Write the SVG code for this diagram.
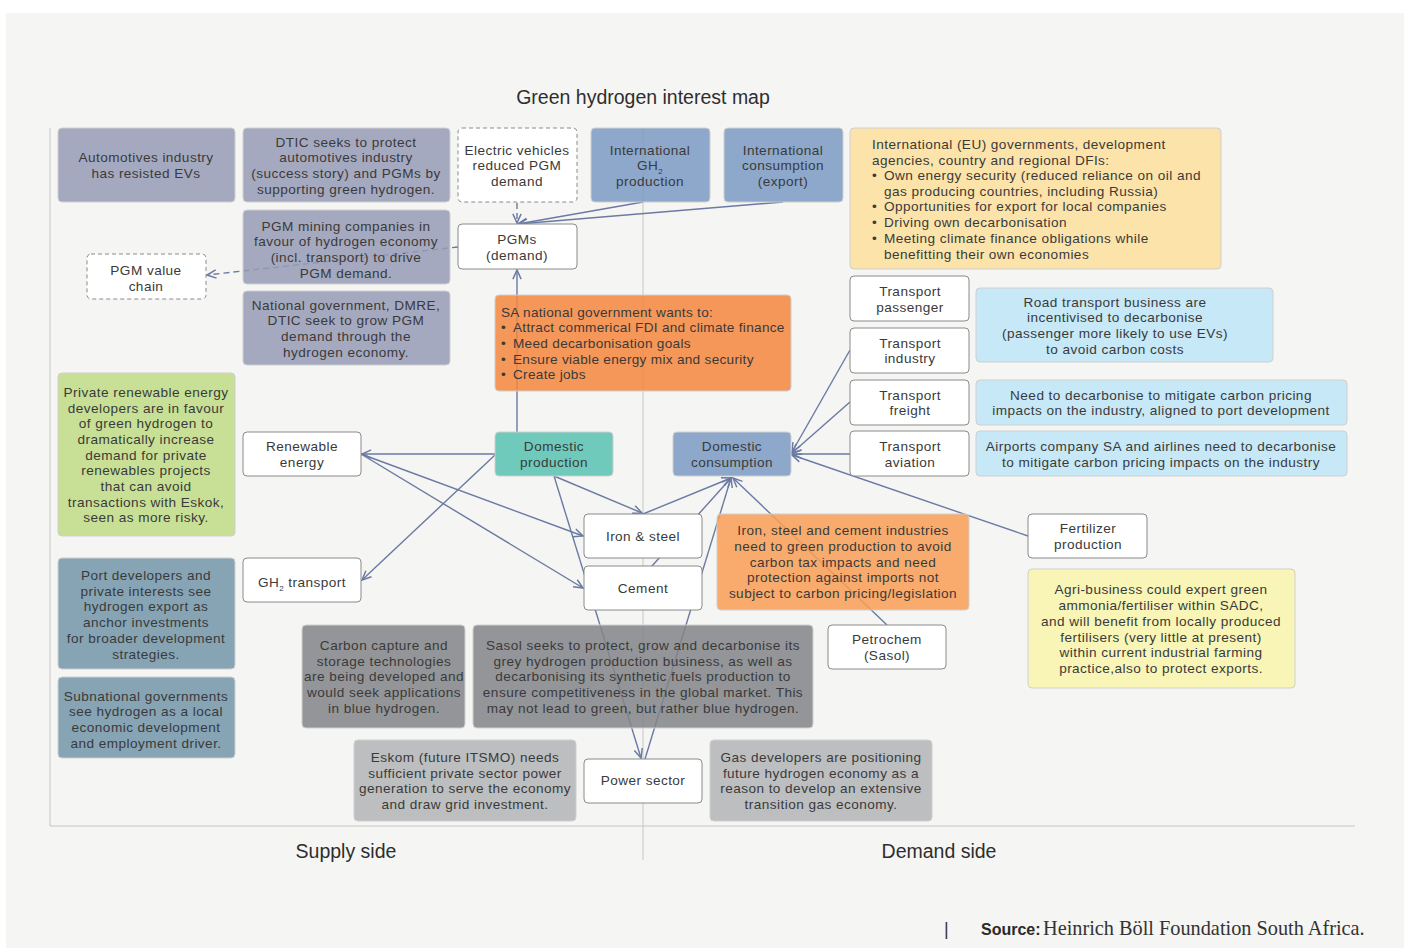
<svg xmlns="http://www.w3.org/2000/svg" width="1410" height="948" viewBox="0 0 1410 948">
<style>
.t{font-family:"Liberation Sans",Arial,sans-serif;font-size:13.6px;letter-spacing:0.45px;fill:#3a3a3a;text-anchor:middle}
.l{text-anchor:start}
.s{letter-spacing:0.3px}
.w{fill:#ffffff;stroke:#8a8a8a;stroke-width:1}
.d{fill:#ffffff;stroke:#8a8a8a;stroke-width:1;stroke-dasharray:4 3}
.c{stroke:#cfcfcf;stroke-width:1;fill-opacity:0.86}
.con{stroke:#6a7aa2;stroke-width:1.4;fill:none}
.dash{stroke-dasharray:6 4}
.ax{stroke:#c6c6c6;stroke-width:1;fill:none}
.h{font-family:"Liberation Sans",Arial,sans-serif;font-size:19.5px;fill:#2e2e2e;text-anchor:middle}
</style>
<defs>
<marker id="arr" viewBox="0 0 12 12" refX="11" refY="6" markerWidth="11" markerHeight="11" markerUnits="userSpaceOnUse" orient="auto">
<path d="M1,1.5 L11,6 L1,10.5" fill="none" stroke="#6a7aa2" stroke-width="1.6"/>
</marker>
</defs>
<rect x="0" y="0" width="1410" height="948" fill="#ffffff"/>
<rect x="6" y="13" width="1398" height="935" fill="#f5f5f3"/>
<text class="h" x="643" y="104">Green hydrogen interest map</text>
<g id="axes">
<line class="ax" x1="50" y1="128" x2="50" y2="826"/>
<line class="ax" x1="50" y1="826" x2="1355" y2="826"/>
<line class="ax" x1="643" y1="128" x2="643" y2="860"/>
</g>
<g id="connectors">
<line class="con dash" x1="517" y1="203" x2="517" y2="223" marker-end="url(#arr)"/>
<line class="con" x1="643" y1="202" x2="518" y2="224" marker-end="url(#arr)"/>
<line class="con" x1="783" y1="202" x2="518" y2="224" marker-end="url(#arr)"/>
<line class="con dash" x1="458" y1="247" x2="207" y2="275" marker-end="url(#arr)"/>
<line class="con" x1="517" y1="432" x2="517" y2="270" marker-end="url(#arr)"/>
<line class="con" x1="495" y1="454" x2="362" y2="454" marker-end="url(#arr)"/>
<line class="con" x1="495" y1="455" x2="362" y2="580" marker-end="url(#arr)"/>
<line class="con" x1="361" y1="454" x2="583" y2="536" marker-end="url(#arr)"/>
<line class="con" x1="361" y1="454" x2="583" y2="588" marker-end="url(#arr)"/>
<line class="con" x1="554" y1="476" x2="642" y2="513" marker-end="url(#arr)"/>
<line class="con" x1="554" y1="476" x2="641" y2="758" marker-end="url(#arr)"/>
<line class="con" x1="643" y1="514" x2="731" y2="478" marker-end="url(#arr)"/>
<line class="con" x1="643" y1="576" x2="731" y2="478" marker-end="url(#arr)"/>
<line class="con" x1="645" y1="759" x2="731" y2="478" marker-end="url(#arr)"/>
<line class="con" x1="887" y1="625" x2="733" y2="478" marker-end="url(#arr)"/>
<line class="con" x1="1028" y1="536" x2="792" y2="455" marker-end="url(#arr)"/>
<line class="con" x1="850" y1="454" x2="792" y2="454" marker-end="url(#arr)"/>
<line class="con" x1="850" y1="402" x2="792" y2="453" marker-end="url(#arr)"/>
<line class="con" x1="850" y1="350" x2="792" y2="452" marker-end="url(#arr)"/>
</g>
<g id="automotives"><rect class="c" x="58" y="128" width="177" height="74" rx="4" fill="#979cb6"/>
<text class="t" x="146" y="162">Automotives industry</text><text class="t" x="146" y="178">has resisted EVs</text></g>
<g id="dtic"><rect class="c" x="243" y="128" width="207" height="74" rx="4" fill="#979cb6"/>
<text class="t" x="346" y="147">DTIC seeks to protect</text><text class="t" x="346" y="162">automotives industry</text><text class="t" x="346" y="178">(success story) and PGMs by</text><text class="t" x="346" y="194">supporting green hydrogen.</text></g>
<g id="ev"><rect class="d" x="458" y="128" width="119" height="74" rx="4"/>
<text class="t" x="517" y="155">Electric vehicles</text><text class="t" x="517" y="170">reduced PGM</text><text class="t" x="517" y="186">demand</text></g>
<g id="intl-production"><rect class="c" x="591" y="128" width="119" height="74" rx="4" fill="#7c9bc2"/>
<text class="t" x="650" y="155">International</text><text class="t" x="650" y="170">GH<tspan font-size="8" dy="4">2</tspan></text><text class="t" x="650" y="186">production</text></g>
<g id="intl-consumption"><rect class="c" x="724" y="128" width="119" height="74" rx="4" fill="#7c9bc2"/>
<text class="t" x="783" y="155">International</text><text class="t" x="783" y="170">consumption</text><text class="t" x="783" y="186">(export)</text></g>
<g id="intl-govts"><rect class="c" x="850" y="128" width="371" height="141" rx="4" fill="#fddf9c"/>
<text class="t l" x="872" y="149">International (EU) governments, development</text>
<text class="t l" x="872" y="165">agencies, country and regional DFIs:</text>
<text class="t l" x="872" y="180">•</text><text class="t l" x="884" y="180">Own energy security (reduced reliance on oil and</text>
<text class="t l" x="884" y="196">gas producing countries, including Russia)</text>
<text class="t l" x="872" y="211">•</text><text class="t l" x="884" y="211">Opportunities for export for local companies</text>
<text class="t l" x="872" y="227">•</text><text class="t l" x="884" y="227">Driving own decarbonisation</text>
<text class="t l" x="872" y="243">•</text><text class="t l" x="884" y="243">Meeting climate finance obligations while</text>
<text class="t l" x="884" y="259">benefitting their own economies</text></g>
<g id="pgm-mining"><rect class="c" x="243" y="210" width="207" height="74" rx="4" fill="#979cb6"/>
<text class="t" x="346" y="231">PGM mining companies in</text><text class="t" x="346" y="246">favour of hydrogen economy</text><text class="t" x="346" y="262">(incl. transport) to drive</text><text class="t" x="346" y="278">PGM demand.</text></g>
<g id="pgms"><rect class="w" x="458" y="224" width="119" height="45" rx="4"/>
<text class="t" x="517" y="244">PGMs</text><text class="t" x="517" y="260">(demand)</text></g>
<g id="pgm-value-chain"><rect class="d" x="87" y="254" width="119" height="45" rx="4"/>
<text class="t" x="146" y="275">PGM value</text><text class="t" x="146" y="291">chain</text></g>
<g id="national-govt"><rect class="c" x="243" y="291" width="207" height="74" rx="4" fill="#979cb6"/>
<text class="t" x="346" y="310">National government, DMRE,</text><text class="t" x="346" y="325">DTIC seek to grow PGM</text><text class="t" x="346" y="341">demand through the</text><text class="t" x="346" y="357">hydrogen economy.</text></g>
<g id="sa-govt"><rect class="c" x="495" y="295" width="296" height="96" rx="4" fill="#f5873e"/>
<text class="t l s" x="501" y="317">SA national government wants to:</text>
<text class="t l s" x="501" y="332">•</text><text class="t l s" x="513" y="332">Attract commerical FDI and climate finance</text>
<text class="t l s" x="501" y="348">•</text><text class="t l s" x="513" y="348">Meed decarbonisation goals</text>
<text class="t l s" x="501" y="364">•</text><text class="t l s" x="513" y="364">Ensure viable energy mix and security</text>
<text class="t l s" x="501" y="379">•</text><text class="t l s" x="513" y="379">Create jobs</text></g>
<g id="transport-passenger"><rect class="w" x="850" y="276" width="119" height="45" rx="4"/>
<text class="t" x="910" y="296">Transport</text><text class="t" x="910" y="312">passenger</text></g>
<g id="road-transport"><rect class="c" x="976" y="288" width="297" height="74" rx="4" fill="#bfe5f7"/>
<text class="t" x="1115" y="307">Road transport business are</text><text class="t" x="1115" y="322">incentivised to decarbonise</text><text class="t" x="1115" y="338">(passenger more likely to use EVs)</text><text class="t" x="1115" y="354">to avoid carbon costs</text></g>
<g id="transport-industry"><rect class="w" x="850" y="328" width="119" height="45" rx="4"/>
<text class="t" x="910" y="348">Transport</text><text class="t" x="910" y="363">industry</text></g>
<g id="transport-freight"><rect class="w" x="850" y="380" width="119" height="45" rx="4"/>
<text class="t" x="910" y="400">Transport</text><text class="t" x="910" y="415">freight</text></g>
<g id="freight-note"><rect class="c" x="976" y="380" width="371" height="45" rx="4" fill="#bfe5f7"/>
<text class="t" x="1161" y="400">Need to decarbonise to mitigate carbon pricing</text><text class="t" x="1161" y="415">impacts on the industry, aligned to port development</text></g>
<g id="transport-aviation"><rect class="w" x="850" y="431" width="119" height="45" rx="4"/>
<text class="t" x="910" y="451">Transport</text><text class="t" x="910" y="467">aviation</text></g>
<g id="aviation-note"><rect class="c" x="976" y="431" width="371" height="45" rx="4" fill="#bfe5f7"/>
<text class="t" x="1161" y="451">Airports company SA and airlines need to decarbonise</text><text class="t" x="1161" y="467">to mitigate carbon pricing impacts on the industry</text></g>
<g id="private-renewables"><rect class="c" x="58" y="373" width="177" height="163" rx="4" fill="#c0dc85"/>
<text class="t" x="146" y="397">Private renewable energy</text><text class="t" x="146" y="413">developers are in favour</text><text class="t" x="146" y="428">of green hydrogen to</text><text class="t" x="146" y="444">dramatically increase</text><text class="t" x="146" y="460">demand for private</text><text class="t" x="146" y="475">renewables projects</text><text class="t" x="146" y="491">that can avoid</text><text class="t" x="146" y="507">transactions with Eskok,</text><text class="t" x="146" y="522">seen as more risky.</text></g>
<g id="renewable-energy"><rect class="w" x="243" y="432" width="118" height="44" rx="4"/>
<text class="t" x="302" y="451">Renewable</text><text class="t" x="302" y="467">energy</text></g>
<g id="domestic-production"><rect class="c" x="495" y="432" width="118" height="44" rx="4" fill="#58c2b2"/>
<text class="t" x="554" y="451">Domestic</text><text class="t" x="554" y="467">production</text></g>
<g id="domestic-consumption"><rect class="c" x="673" y="432" width="118" height="44" rx="4" fill="#7c9bc2"/>
<text class="t" x="732" y="451">Domestic</text><text class="t" x="732" y="467">consumption</text></g>
<g id="iron-steel"><rect class="w" x="584" y="514" width="118" height="44" rx="4"/>
<text class="t" x="643" y="541">Iron &amp; steel</text></g>
<g id="cement"><rect class="w" x="584" y="566" width="118" height="44" rx="4"/>
<text class="t" x="643" y="593">Cement</text></g>
<g id="industry-note"><rect class="c" x="717" y="514" width="252" height="96" rx="4" fill="#f89e55"/>
<text class="t" x="843" y="535">Iron, steel and cement industries</text><text class="t" x="843" y="551">need to green production to avoid</text><text class="t" x="843" y="567">carbon tax impacts and need</text><text class="t" x="843" y="582">protection against imports not</text><text class="t" x="843" y="598">subject to carbon pricing/legislation</text></g>
<g id="fertilizer"><rect class="w" x="1028" y="514" width="119" height="44" rx="4"/>
<text class="t" x="1088" y="533">Fertilizer</text><text class="t" x="1088" y="549">production</text></g>
<g id="agri"><rect class="c" x="1028" y="569" width="267" height="119" rx="4" fill="#f8f4ab"/>
<text class="t" x="1161" y="594">Agri-business could expert green</text><text class="t" x="1161" y="610">ammonia/fertiliser within SADC,</text><text class="t" x="1161" y="626">and will benefit from locally produced</text><text class="t" x="1161" y="642">fertilisers (very little at present)</text><text class="t" x="1161" y="657">within current industrial farming</text><text class="t" x="1161" y="673">practice,also to protect exports.</text></g>
<g id="petrochem"><rect class="w" x="828" y="625" width="118" height="44" rx="4"/>
<text class="t" x="887" y="644">Petrochem</text><text class="t" x="887" y="660">(Sasol)</text></g>
<g id="port-developers"><rect class="c" x="58" y="558" width="177" height="111" rx="4" fill="#7396a9"/>
<text class="t" x="146" y="580">Port developers and</text><text class="t" x="146" y="596">private interests see</text><text class="t" x="146" y="611">hydrogen export as</text><text class="t" x="146" y="627">anchor investments</text><text class="t" x="146" y="643">for broader development</text><text class="t" x="146" y="659">strategies.</text></g>
<g id="gh2-transport"><rect class="w" x="243" y="558" width="118" height="44" rx="4"/>
<text class="t" x="302" y="587">GH<tspan font-size="8" dy="4">2</tspan><tspan dy="-4"> transport</tspan></text></g>
<g id="carbon-capture"><rect class="c" x="302" y="625" width="163" height="103" rx="4" fill="#848588"/>
<text class="t" x="384" y="650">Carbon capture and</text><text class="t" x="384" y="666">storage technologies</text><text class="t" x="384" y="681">are being developed and</text><text class="t" x="384" y="697">would seek applications</text><text class="t" x="384" y="713">in blue hydrogen.</text></g>
<g id="sasol"><rect class="c" x="473" y="625" width="340" height="103" rx="4" fill="#848588"/>
<text class="t" x="643" y="650">Sasol seeks to protect, grow and decarbonise its</text><text class="t" x="643" y="666">grey hydrogen production business, as well as</text><text class="t" x="643" y="681">decarbonising its synthetic fuels production to</text><text class="t" x="643" y="697">ensure competitiveness in the global market. This</text><text class="t" x="643" y="713">may not lead to green, but rather blue hydrogen.</text></g>
<g id="subnational"><rect class="c" x="58" y="677" width="177" height="81" rx="4" fill="#7396a9"/>
<text class="t" x="146" y="701">Subnational governments</text><text class="t" x="146" y="716">see hydrogen as a local</text><text class="t" x="146" y="732">economic development</text><text class="t" x="146" y="748">and employment driver.</text></g>
<g id="eskom"><rect class="c" x="354" y="740" width="222" height="81" rx="4" fill="#b3b4b7"/>
<text class="t" x="465" y="762">Eskom (future ITSMO) needs</text><text class="t" x="465" y="778">sufficient private sector power</text><text class="t" x="465" y="793">generation to serve the economy</text><text class="t" x="465" y="809">and draw grid investment.</text></g>
<g id="power-sector"><rect class="w" x="584" y="759" width="118" height="44" rx="4"/>
<text class="t" x="643" y="785">Power sector</text></g>
<g id="gas-developers"><rect class="c" x="710" y="740" width="222" height="81" rx="4" fill="#b3b4b7"/>
<text class="t" x="821" y="762">Gas developers are positioning</text><text class="t" x="821" y="778">future hydrogen economy as a</text><text class="t" x="821" y="793">reason to develop an extensive</text><text class="t" x="821" y="809">transition gas economy.</text></g>
<text class="h" x="346" y="858">Supply side</text>
<text class="h" x="939" y="858">Demand side</text>
<text x="944" y="935" font-family="Liberation Sans,Arial,sans-serif" font-size="18" fill="#333">|</text>
<text x="981" y="935" font-family="Liberation Sans,Arial,sans-serif" font-size="16" font-weight="bold" fill="#2a2a2a">Source:</text>
<text x="1043" y="935" font-family="Liberation Serif,Times New Roman,serif" font-size="20.3" fill="#333">Heinrich Böll Foundation South Africa.</text>
</svg>
